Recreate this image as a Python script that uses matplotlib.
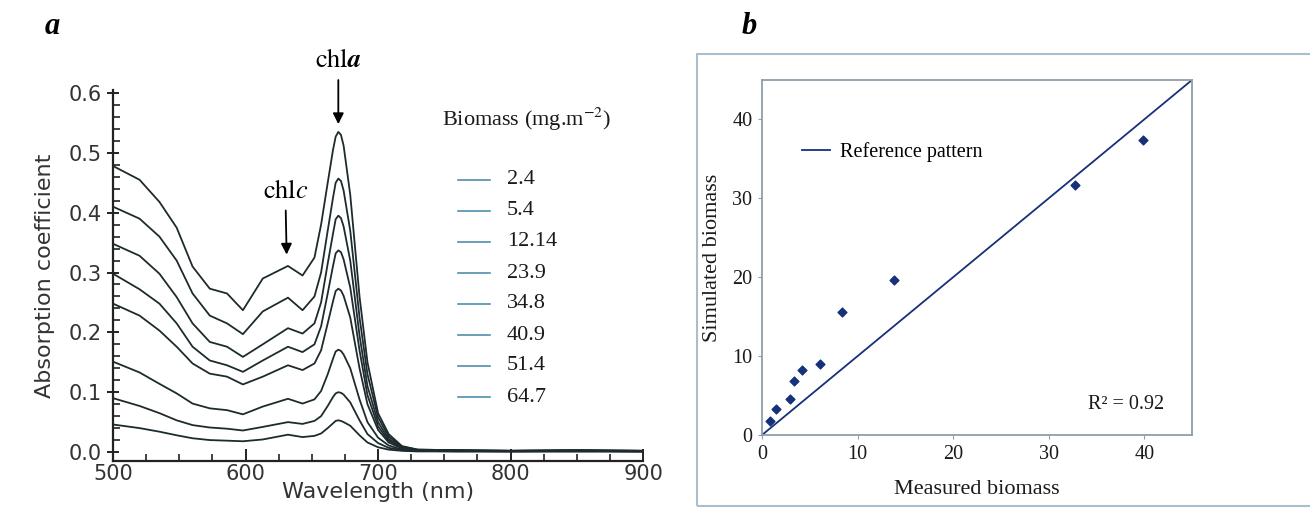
import matplotlib.pyplot as plt
from matplotlib.lines import Line2D
from matplotlib.patches import Rectangle
from matplotlib.ticker import MultipleLocator

plt.rcParams["mathtext.fontset"] = "stix"

# ---- panel a: absorption spectra ----
wavelength = [500, 520, 535, 548, 560, 573, 586, 598, 613, 632, 643, 652, 657, 662,
              666, 668, 670, 672, 674, 679, 686, 692, 700, 708, 718, 730, 760, 800, 850, 900]
spec_2_4 = [0.478, 0.455, 0.418, 0.375, 0.310, 0.273, 0.265, 0.237, 0.290, 0.311, 0.295, 0.325, 0.380, 0.450,
            0.505, 0.527, 0.535, 0.530, 0.512, 0.430, 0.260, 0.150, 0.065, 0.030, 0.010, 0.004, 0.003, 0.002, 0.003, 0.002]
spec_5_4 = [0.410, 0.390, 0.360, 0.320, 0.265, 0.228, 0.215, 0.197, 0.235, 0.258, 0.237, 0.260, 0.300, 0.370,
            0.425, 0.450, 0.457, 0.453, 0.437, 0.370, 0.225, 0.130, 0.058, 0.026, 0.009, 0.004, 0.003, 0.002, 0.003, 0.002]
spec_12_14 = [0.348, 0.328, 0.298, 0.259, 0.215, 0.184, 0.176, 0.159, 0.180, 0.207, 0.198, 0.215, 0.250, 0.315,
              0.365, 0.389, 0.395, 0.391, 0.377, 0.320, 0.195, 0.110, 0.050, 0.022, 0.008, 0.003, 0.003, 0.002, 0.003, 0.002]
spec_23_9 = [0.298, 0.272, 0.248, 0.215, 0.176, 0.153, 0.145, 0.134, 0.153, 0.176, 0.167, 0.180, 0.210, 0.265,
             0.311, 0.332, 0.337, 0.334, 0.322, 0.275, 0.170, 0.095, 0.043, 0.019, 0.007, 0.003, 0.002, 0.002, 0.002, 0.002]
spec_34_8 = [0.248, 0.228, 0.203, 0.176, 0.148, 0.131, 0.126, 0.113, 0.126, 0.145, 0.137, 0.148, 0.170, 0.215,
             0.252, 0.269, 0.273, 0.270, 0.261, 0.225, 0.140, 0.080, 0.037, 0.016, 0.006, 0.003, 0.002, 0.002, 0.002, 0.001]
spec_40_9 = [0.151, 0.133, 0.114, 0.098, 0.081, 0.073, 0.070, 0.063, 0.076, 0.089, 0.081, 0.088, 0.102, 0.130,
             0.156, 0.168, 0.171, 0.169, 0.163, 0.140, 0.088, 0.050, 0.024, 0.011, 0.004, 0.002, 0.002, 0.001, 0.002, 0.001]
spec_51_4 = [0.090, 0.077, 0.065, 0.053, 0.045, 0.041, 0.039, 0.036, 0.042, 0.050, 0.047, 0.052, 0.060, 0.077,
             0.092, 0.098, 0.100, 0.099, 0.096, 0.083, 0.053, 0.030, 0.015, 0.007, 0.003, 0.002, 0.001, 0.001, 0.001, 0.001]
spec_64_7 = [0.046, 0.040, 0.034, 0.028, 0.023, 0.020, 0.019, 0.018, 0.021, 0.029, 0.025, 0.027, 0.031, 0.040,
             0.048, 0.052, 0.053, 0.052, 0.050, 0.044, 0.028, 0.016, 0.008, 0.004, 0.002, 0.001, 0.001, 0.001, 0.001, 0.001]
spectra = [spec_2_4, spec_5_4, spec_12_14, spec_23_9, spec_34_8, spec_40_9, spec_51_4, spec_64_7]
biomass_labels = ["2.4", "5.4", "12.14", "23.9", "34.8", "40.9", "51.4", "64.7"]

# ---- panel b: measured vs simulated ----
measured = [0.8, 1.5, 2.9, 3.3, 4.2, 6.1, 8.4, 13.8, 32.8, 39.9]
simulated = [1.8, 3.3, 4.6, 6.8, 8.2, 9.0, 15.6, 19.6, 31.7, 37.4]
ref_line = [0, 45]

CURVE = "#1d2b2e"
LEGEND_BLUE = "#4f8fad"
NAVY = "#16307a"
SANS = "DejaVu Sans"
SERIF = "Liberation Serif"

fig = plt.figure(figsize=(13.1, 5.08), dpi=100)

ax = fig.add_axes([0.0863, 0.0925, 0.4046, 0.7303])
for values in spectra:
    ax.plot(wavelength, values, color=CURVE, linewidth=1.3)
ax.set_xlim(500, 900)
ax.set_ylim(-0.015, 0.605)
ax.spines["top"].set_visible(False)
ax.spines["right"].set_visible(False)
for side in ("left", "bottom"):
    ax.spines[side].set_linewidth(1.6)
    ax.spines[side].set_color("#222222")
ax.xaxis.set_major_locator(MultipleLocator(100))
ax.xaxis.set_minor_locator(MultipleLocator(25))
ax.yaxis.set_major_locator(MultipleLocator(0.1))
ax.yaxis.set_minor_locator(MultipleLocator(0.02))
ax.tick_params(which="major", direction="inout", length=9, width=1.4, color="#222222",
               labelsize=15, labelcolor="#333333")
ax.tick_params(which="minor", direction="in", length=5, width=1.2, color="#222222")
ax.tick_params(axis="x", which="major", direction="in", pad=2)
for lab in ax.get_xticklabels() + ax.get_yticklabels():
    lab.set_family(SANS)
ax.yaxis.set_major_formatter(plt.FuncFormatter(lambda v, p: f"{v:.1f}"))
ax.set_xlabel("Wavelength (nm)", fontsize=16, family=SANS, color="#333333", labelpad=-1)
ax.set_ylabel("Absorption coefficient", fontsize=16, family=SANS, color="#333333", labelpad=10)

arrow = dict(arrowstyle="-|>", color="black", lw=1.3, mutation_scale=16, shrinkA=3, shrinkB=0)
ax.annotate(r"$\mathrm{chl}\mathbfit{a}$", xy=(670, 0.548), xytext=(670, 0.655),
            fontsize=19, ha="center", va="center", arrowprops=arrow, annotation_clip=False)
ax.annotate(r"$\mathrm{chl}\mathit{c}$", xy=(631, 0.33), xytext=(630, 0.437),
            fontsize=19, ha="center", va="center", arrowprops=arrow, annotation_clip=False)

fig.text(0.3375, 0.764, r"Biomass (mg.m$^{-2}$)", fontsize=16, family=SERIF, color="#1a1a1a",
         va="center", ha="left")
for i, label in enumerate(biomass_labels):
    y = 1 - (180 + i * 31) / 508
    fig.add_artist(Line2D([0.3495, 0.374], [y, y], color=LEGEND_BLUE, linewidth=1.2))
    fig.text(0.387, y, label, fontsize=16, family=SERIF, color="#1a1a1a", va="center", ha="left")

fig.text(0.034, 0.947, "a", fontsize=22, family=SERIF, weight="bold", style="italic", va="center")
fig.text(0.566, 0.947, "b", fontsize=22, family=SERIF, weight="bold", style="italic", va="center")

# outer frame of panel b
fig.add_artist(Rectangle((0.532, 0.004), 0.47, 0.89, transform=fig.transFigure,
                         fill=False, edgecolor="#a9bfcf", linewidth=1.5))

bx = fig.add_axes([0.5817, 0.1437, 0.3282, 0.6988])
bx.plot(ref_line, ref_line, color=NAVY, linewidth=1.3, label="Reference pattern")
bx.scatter(measured, simulated, marker="D", s=20, color=NAVY, zorder=3)
bx.set_xlim(0, 45)
bx.set_ylim(0, 45)
bx.set_xticks([0, 10, 20, 30, 40])
bx.set_yticks([0, 10, 20, 30, 40])
for spine in bx.spines.values():
    spine.set_color("#8f9eab")
    spine.set_linewidth(1.3)
bx.tick_params(length=3, color="#8f9eab", labelsize=14.5, labelcolor="#1a1a1a", pad=4)
for lab in bx.get_xticklabels() + bx.get_yticklabels():
    lab.set_family(SERIF)
bx.set_xlabel("Measured biomass", fontsize=16, family=SERIF, color="#1a1a1a", labelpad=12)
bx.set_ylabel("Simulated biomass", fontsize=16, family=SERIF, color="#1a1a1a", labelpad=7)
bx.legend(loc="upper left", bbox_to_anchor=(0.05, 0.875), frameon=False,
          prop={"family": SERIF, "size": 14.5}, handlelength=1.4, handletextpad=0.5)
bx.text(0.935, 0.085, "R² = 0.92", transform=bx.transAxes, fontsize=14.5, family=SERIF,
        ha="right", va="center", color="#1a1a1a")

fig.savefig("out.png", dpi=100)
